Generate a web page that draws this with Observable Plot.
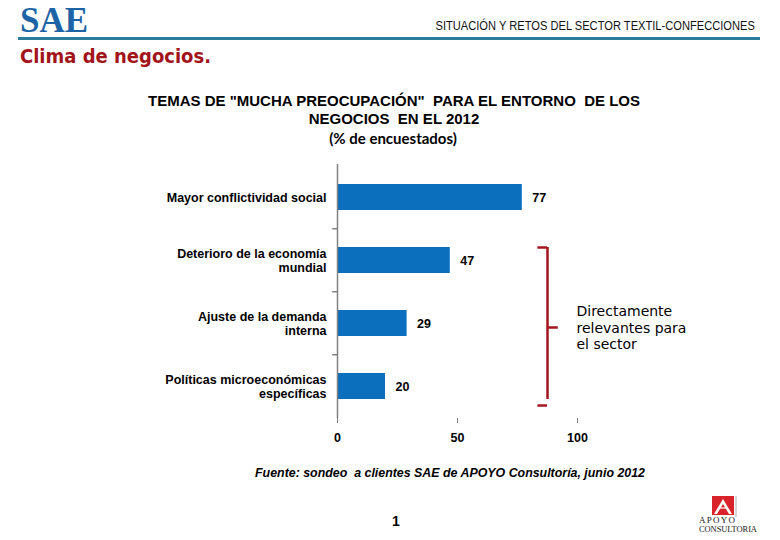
<!DOCTYPE html>
<html>
<head>
<meta charset="utf-8">
<script src="https://cdn.jsdelivr.net/npm/d3@7"></script>
<script src="https://cdn.jsdelivr.net/npm/@observablehq/plot@0.6"></script>
<style>
  html, body { margin: 0; padding: 0; background: #fff; }
  #page { position: relative; width: 780px; height: 540px; overflow: hidden; font-family: "Liberation Sans", Arial, sans-serif; }
  .abs { position: absolute; white-space: nowrap; }
  #sae { left: 20px; top: 1px; font-family: "Liberation Serif", "Times New Roman", serif; font-weight: bold; font-size: 35px; color: #1c64a6; }
  #head { right: 25px; top: 19px; font-size: 12.5px; color: #111; transform-origin: right center; transform: scaleX(0.89); }
  #hline { left: 18px; top: 37px; width: 742px; height: 3px; background: #2b7c9b; }
  #clima { left: 20px; top: 44px; font-family: "DejaVu Sans Condensed", "DejaVu Sans", sans-serif; font-stretch: condensed; font-weight: bold; font-size: 20px; color: #a3141a; }
  #title { left: 0; width: 788px; top: 92px; text-align: center; font-weight: bold; font-size: 15px; line-height: 17.5px; color: #000; }
  #sub { left: 0; width: 786px; top: 129px; text-align: center; font-family: Lato, "Open Sans", sans-serif; font-weight: bold; font-size: 15px; color: #000; }
  #src { left: 0; width: 900px; top: 466px; text-align: center; font-weight: bold; font-style: italic; font-size: 12.4px; color: #000; }
  #pnum { left: 392px; top: 513px; font-size: 14px; font-weight: bold; color: #000; }
  #logo { left: 697px; top: 494px; }
  #chart { position: absolute; left: 0; top: 0; }
</style>
</head>
<body>
<div id="page">
  <div class="abs" id="sae">SAE</div>
  <div class="abs" id="head">SITUACIÓN Y RETOS DEL SECTOR TEXTIL-CONFECCIONES</div>
  <div class="abs" id="hline"></div>
  <div class="abs" id="clima">Clima de negocios.</div>
  <div class="abs" id="title">TEMAS DE "MUCHA PREOCUPACIÓN"&nbsp; PARA EL ENTORNO&nbsp; DE LOS<br>NEGOCIOS&nbsp; EN EL 2012</div>
  <div class="abs" id="sub">(% de encuestados)</div>
  <div id="chart"></div>
  <div class="abs" id="src">Fuente: sondeo&nbsp; a clientes SAE de APOYO Consultoría, junio 2012</div>
  <div class="abs" id="pnum">1</div>
  <div class="abs" id="logo">
    <svg width="64" height="42" viewBox="0 0 64 42">
      <rect x="15" y="2" width="22" height="19" fill="#d8232a"/>
      <polygon points="26,5 17,20 20,20 26,10 32,20 35,20" fill="#fff"/>
      <line x1="21" y1="14" x2="31" y2="14" stroke="#fff" stroke-width="1.2"/>
      <line x1="39" y1="2" x2="39" y2="23" stroke="#999" stroke-width="0.8"/>
      <text x="2" y="29" font-family="Liberation Serif, serif" font-size="9" textLength="36" fill="#222">APOYO</text>
      <text x="2" y="38" font-family="Liberation Serif, serif" font-size="8.5" textLength="58" fill="#222">CONSULTORIA</text>
    </svg>
  </div>
</div>
<script>
// Data
const categories = [
  "Mayor conflictividad social",
  "Deterioro de la economía\nmundial",
  "Ajuste de la demanda\ninterna",
  "Políticas microeconómicas\nespecíficas"
];
const values = [77, 47, 29, 20];
const xTicks = [0, 50, 100];
const bracketLabel = "Directamente\nrelevantes para\nel sector";

const rows = categories.map((c, i) => ({cat: c, value: values[i]}));
const gray = "#808080";
const red = "#a3161f";
const halfStep = 31.75;

const chart = Plot.plot({
  width: 780,
  height: 540,
  marginLeft: 337,
  marginRight: 203,
  marginTop: 164,
  marginBottom: 122,
  style: {
    fontFamily: "'Liberation Sans', Arial, sans-serif",
    fontSize: "12.5px",
    fontWeight: "bold",
    color: "#000",
    background: "transparent",
    overflow: "visible"
  },
  x: {domain: [0, 100], ticks: xTicks, label: null},
  y: {domain: categories, paddingInner: 0.59, paddingOuter: 0.295, label: null},
  marks: [
    Plot.barX(rows, {x: "value", y: "cat", fill: "#0b6fbd"}),
    Plot.text(rows, {x: "value", y: "cat", text: d => String(d.value), dx: 10, textAnchor: "start", fontWeight: "bold", fontSize: 12.5, fill: "#000"}),
    Plot.ruleX([0], {stroke: gray, strokeWidth: 1.5}),
    Plot.axisX({ticks: xTicks, tickSize: 5, tickPadding: 10, stroke: gray, line: true, label: null, fontWeight: "bold", fontSize: 12.5}),
    // category separator ticks on the value axis (band boundaries)
    Plot.ruleY(categories.slice(1), {x1: -2, x2: 0, dy: -halfStep, stroke: gray, strokeWidth: 1.5}),
    Plot.axisY({tickSize: 0, tickPadding: 11, label: null, fontWeight: "bold", fontSize: 12.5, lineHeight: 1.1}),
    // bracket for "directly relevant" categories
    Plot.ruleX([{x: 87.5, y1: categories[1], y2: categories[3]}], {x: "x", y1: "y1", y2: "y2", stroke: red, strokeWidth: 2.5}),
    Plot.ruleY([categories[1]], {x1: 83.5, x2: 87.5, dy: -13, stroke: red, strokeWidth: 2.5}),
    Plot.ruleY([categories[3]], {x1: 83.5, x2: 87.5, dy: 19, stroke: red, strokeWidth: 2.5}),
    Plot.ruleY([categories[2]], {x1: 87.5, x2: 92, dy: 4, stroke: red, strokeWidth: 2.5}),
    Plot.text([{label: bracketLabel, x: 100, y: categories[2]}], {x: "x", y: "y", text: "label", dx: -1, dy: 4, textAnchor: "start", fontFamily: "'DejaVu Sans', Verdana, sans-serif", fontWeight: "normal", fontSize: 14, lineHeight: 1.18, fill: "#000"})
  ]
});
document.getElementById("chart").appendChild(chart);
</script>
</body>
</html>
